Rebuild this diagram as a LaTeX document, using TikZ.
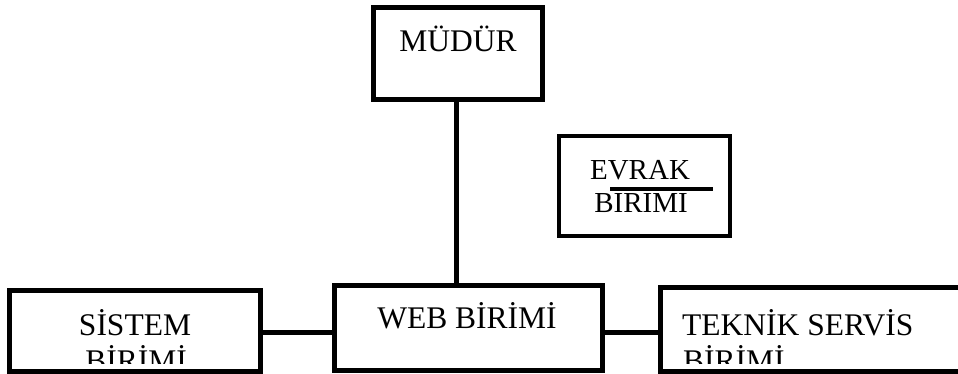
\documentclass[tikz,border=0pt]{standalone}
\usepackage{fontspec}
\setmainfont{Liberation Serif}
\tikzset{
  unit/.style={draw=black, line width=5pt, fill=white, inner sep=0pt, rectangle},
  label/.style={inner sep=0pt, text=black, font=\fontsize{31.5}{36}\selectfont},
  link/.style={draw=black, line width=5pt},
}
\begin{document}
\begin{tikzpicture}[x=1pt, y=-1pt]
  \useasboundingbox (0,0) rectangle (958,374);
  \fill[white] (0,0) rectangle (958,374);
  \begin{scope}
    \clip (0,0) rectangle (958,374);

    % boxes
    \node[unit, minimum width=169pt, minimum height=91.5pt] (mudur) at (458,53.3) {};
    \node[unit, line width=4pt, minimum width=171pt, minimum height=100pt] (evrak) at (644.5,186) {};
    \node[unit, minimum width=268pt, minimum height=85.5pt] (web) at (468.5,327.75) {};
    \node[unit, minimum width=251pt, minimum height=80.5pt] (sistem) at (135,330.75) {};
    \node[unit, minimum width=330pt, minimum height=83.5pt] (teknik) at (825,329.25) {};

    % connectors
    \coordinate (hub) at (0,332.5);
    \draw[link] ([xshift=-1.5pt]mudur.south) -- ([xshift=-1.5pt]mudur.south |- web.north);
    \draw[link] (sistem.east |- hub) -- (web.west |- hub);
    \draw[link] (web.east |- hub) -- (teknik.west |- hub);

    % labels
    \node[label, anchor=base] (tmudur) at (458,52) {MÜDÜR};
    \node[label, anchor=base] (tweb) at (467,328) {WEB BİRİMİ};
    \node[label, anchor=base, font=\fontsize{29}{34}\selectfont] (tevrak1) at (640,180) {EVRAK};
    \node[label, anchor=base, font=\fontsize{29}{34}\selectfont] (tevrak2) at (641,213) {BIRIMI};
    \draw[line width=4pt] (610,189) -- (713,189);

    \node[label, anchor=base] (tsistem1) at (135,335) {SİSTEM};
    \node[label, anchor=base west] (tteknik1) at (682,335) {TEKNİK SERVİS};
    \begin{scope}
      \clip (0,0) rectangle (958,363);
      \node[label, anchor=base] (tsistem2) at (136,371) {BİRİMİ};
      \node[label, anchor=base west] (tteknik2) at (683,371) {BİRİMİ};
    \end{scope}
  \end{scope}
\end{tikzpicture}
\end{document}
